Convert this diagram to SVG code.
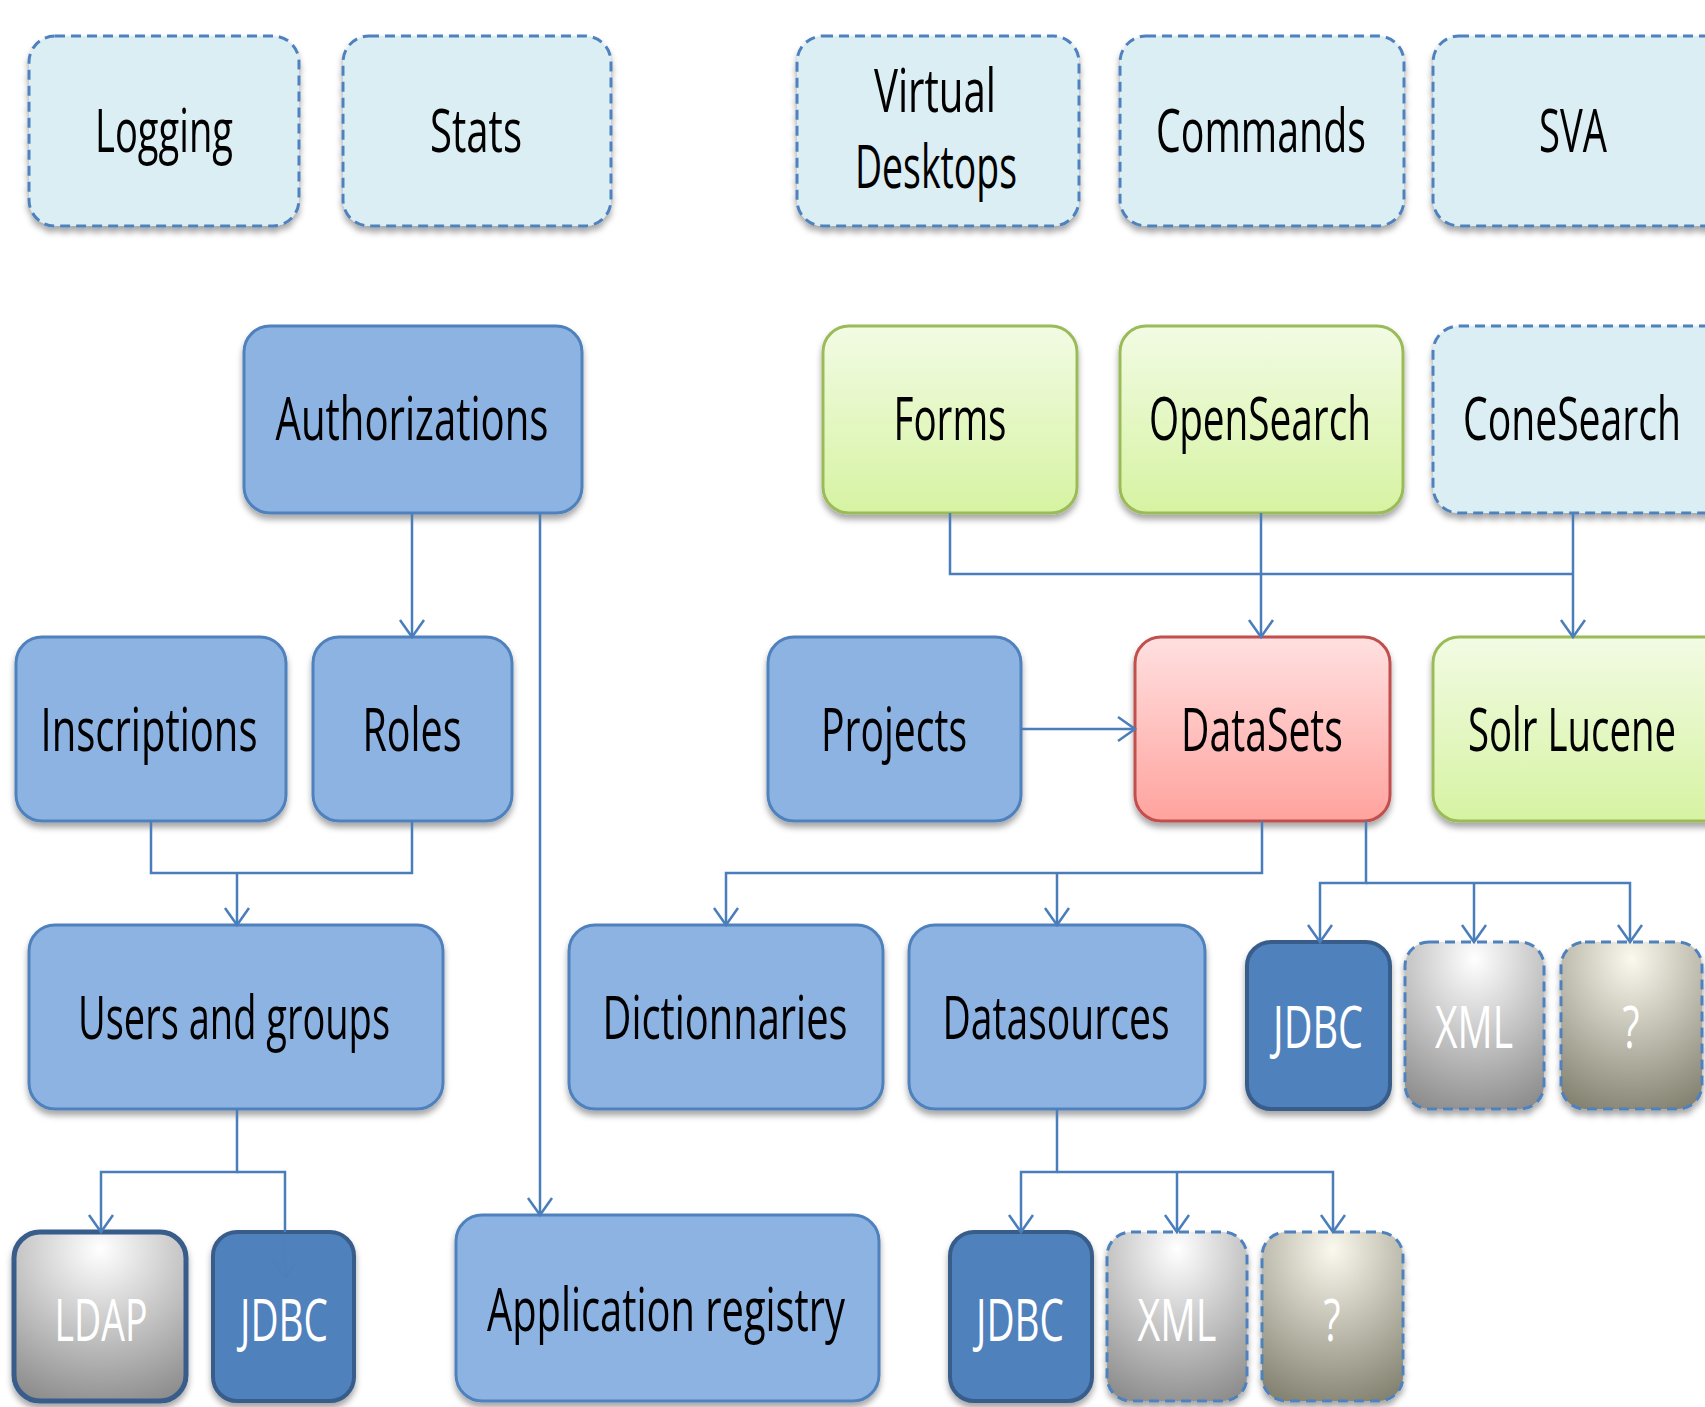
<svg xmlns="http://www.w3.org/2000/svg" width="1705" height="1407" viewBox="0 0 1705 1407">
  <style>
    .box { stroke-width: 3; }
    .opt { fill: #DBEEF4; stroke: #4F81BD; stroke-dasharray: 10 6; }
    .mod { fill: #8DB3E2; stroke: #4F81BD; }
    .green { fill: url(#gGreen); stroke: #9BBB59; }
    .red { fill: url(#gRed); stroke: #C0504D; }
    .dark { fill: #4F81BD; stroke: #385D8A; stroke-width: 4; }
    .grayOpt { fill: url(#gGray); stroke: #4F81BD; stroke-dasharray: 10 6; }
    .beigeOpt { fill: url(#gBeige); stroke: #4F81BD; stroke-dasharray: 10 6; }
    .graySolid { fill: url(#gGray); stroke: #385D8A; stroke-width: 5; }
    text { font-family: "Open Sans", "Liberation Sans", sans-serif; font-size: 61px; text-anchor: middle; fill: #000; }
    text.w { fill: #FFFFFF; font-size: 58px; }
    .link { fill: none; stroke: #4A7EBB; stroke-width: 2.5; }
  </style>
  <defs>
    <filter id="shadow" x="-10%" y="-10%" width="120%" height="125%">
      <feDropShadow dx="0" dy="5" stdDeviation="3" flood-color="#000" flood-opacity="0.35"/>
    </filter>
    <linearGradient id="gGreen" x1="0" y1="0" x2="0" y2="1">
      <stop offset="0" stop-color="#F2FBE4"/>
      <stop offset="1" stop-color="#D6F3A2"/>
    </linearGradient>
    <linearGradient id="gRed" x1="0" y1="0" x2="0" y2="1">
      <stop offset="0" stop-color="#FFE0E0"/>
      <stop offset="1" stop-color="#FFA39E"/>
    </linearGradient>
    <radialGradient id="gGray" cx="0.5" cy="0.1" r="0.95">
      <stop offset="0" stop-color="#FFFFFF"/>
      <stop offset="1" stop-color="#8E8E8E"/>
    </radialGradient>
    <radialGradient id="gBeige" cx="0.5" cy="0.1" r="0.95">
      <stop offset="0" stop-color="#FBF9EE"/>
      <stop offset="1" stop-color="#858372"/>
    </radialGradient>
    <marker id="arrow" markerUnits="userSpaceOnUse" markerWidth="40" markerHeight="40" viewBox="-20 -20 40 40" refX="0" refY="0" orient="auto">
      <path d="M -17 -12 L 0 0 L -17 12" fill="none" stroke="#4A7EBB" stroke-width="2.5"/>
    </marker>
  </defs>

  <!-- top row: optional services -->
  <g id="logging">
    <rect class="box opt" x="29" y="36" width="270" height="190" rx="26" filter="url(#shadow)"/>
    <text x="164" y="152" textLength="138" lengthAdjust="spacingAndGlyphs">Logging</text>
  </g>
  <g id="stats">
    <rect class="box opt" x="343" y="36" width="268" height="190" rx="26" filter="url(#shadow)"/>
    <text x="476" y="152" textLength="92" lengthAdjust="spacingAndGlyphs">Stats</text>
  </g>
  <g id="virtual-desktops">
    <rect class="box opt" x="797" y="36" width="282" height="190" rx="26" filter="url(#shadow)"/>
    <text x="935" y="112" textLength="122" lengthAdjust="spacingAndGlyphs">Virtual</text>
    <text x="936" y="188" textLength="162" lengthAdjust="spacingAndGlyphs">Desktops</text>
  </g>
  <g id="commands">
    <rect class="box opt" x="1120" y="36" width="284" height="190" rx="26" filter="url(#shadow)"/>
    <text x="1261" y="152" textLength="210" lengthAdjust="spacingAndGlyphs">Commands</text>
  </g>
  <g id="sva">
    <rect class="box opt" x="1433" y="36" width="300" height="190" rx="26" filter="url(#shadow)"/>
    <text x="1573" y="152" textLength="68" lengthAdjust="spacingAndGlyphs">SVA</text>
  </g>

  <!-- second row -->
  <g id="authorizations">
    <rect class="box mod" x="244" y="326" width="338" height="187" rx="26" filter="url(#shadow)"/>
    <text x="412" y="440" textLength="273" lengthAdjust="spacingAndGlyphs">Authorizations</text>
  </g>
  <g id="forms">
    <rect class="box green" x="823" y="326" width="254" height="187" rx="26" filter="url(#shadow)"/>
    <text x="950" y="440" textLength="113" lengthAdjust="spacingAndGlyphs">Forms</text>
  </g>
  <g id="opensearch">
    <rect class="box green" x="1120" y="326" width="283" height="187" rx="26" filter="url(#shadow)"/>
    <text x="1260" y="440" textLength="222" lengthAdjust="spacingAndGlyphs">OpenSearch</text>
  </g>
  <g id="conesearch">
    <rect class="box opt" x="1433" y="326" width="300" height="187" rx="26" filter="url(#shadow)"/>
    <text x="1572" y="440" textLength="218" lengthAdjust="spacingAndGlyphs">ConeSearch</text>
  </g>

  <!-- third row -->
  <g id="inscriptions">
    <rect class="box mod" x="16" y="637" width="270" height="184" rx="26" filter="url(#shadow)"/>
    <text x="149" y="751" textLength="217" lengthAdjust="spacingAndGlyphs">Inscriptions</text>
  </g>
  <g id="roles">
    <rect class="box mod" x="313" y="637" width="199" height="184" rx="26" filter="url(#shadow)"/>
    <text x="412" y="751" textLength="99" lengthAdjust="spacingAndGlyphs">Roles</text>
  </g>
  <g id="projects">
    <rect class="box mod" x="768" y="637" width="253" height="184" rx="26" filter="url(#shadow)"/>
    <text x="894" y="751" textLength="146" lengthAdjust="spacingAndGlyphs">Projects</text>
  </g>
  <g id="datasets">
    <rect class="box red" x="1135" y="637" width="255" height="184" rx="26" filter="url(#shadow)"/>
    <text x="1262" y="751" textLength="162" lengthAdjust="spacingAndGlyphs">DataSets</text>
  </g>
  <g id="solr-lucene">
    <rect class="box green" x="1433" y="637" width="300" height="184" rx="26" filter="url(#shadow)"/>
    <text x="1572" y="751" textLength="208" lengthAdjust="spacingAndGlyphs">Solr Lucene</text>
  </g>

  <!-- fourth row -->
  <g id="users-and-groups">
    <rect class="box mod" x="29" y="925" width="414" height="184" rx="26" filter="url(#shadow)"/>
    <text x="234" y="1039" textLength="312" lengthAdjust="spacingAndGlyphs">Users and groups</text>
  </g>
  <g id="dictionnaries">
    <rect class="box mod" x="569" y="925" width="314" height="184" rx="26" filter="url(#shadow)"/>
    <text x="725" y="1039" textLength="245" lengthAdjust="spacingAndGlyphs">Dictionnaries</text>
  </g>
  <g id="datasources">
    <rect class="box mod" x="909" y="925" width="296" height="184" rx="26" filter="url(#shadow)"/>
    <text x="1056" y="1039" textLength="227" lengthAdjust="spacingAndGlyphs">Datasources</text>
  </g>
  <g id="dataset-jdbc">
    <rect class="box dark" x="1247" y="942" width="143" height="167" rx="24" filter="url(#shadow)"/>
    <text class="w" x="1318" y="1048" textLength="90" lengthAdjust="spacingAndGlyphs">JDBC</text>
  </g>
  <g id="dataset-xml">
    <rect class="box grayOpt" x="1405" y="942" width="139" height="167" rx="24" filter="url(#shadow)"/>
    <text class="w" x="1474" y="1048" textLength="78" lengthAdjust="spacingAndGlyphs">XML</text>
  </g>
  <g id="dataset-other">
    <rect class="box beigeOpt" x="1561" y="942" width="141" height="167" rx="24" filter="url(#shadow)"/>
    <text class="w" x="1631" y="1048" textLength="17" lengthAdjust="spacingAndGlyphs">?</text>
  </g>

  <!-- fifth row -->
  <g id="ldap">
    <rect class="box graySolid" x="14" y="1232" width="172" height="169" rx="26" filter="url(#shadow)"/>
    <text class="w" x="101" y="1341" textLength="93" lengthAdjust="spacingAndGlyphs">LDAP</text>
  </g>
  <g id="users-jdbc">
    <rect class="box dark" x="213" y="1232" width="141" height="169" rx="24" filter="url(#shadow)"/>
    <text class="w" x="284" y="1341" textLength="88" lengthAdjust="spacingAndGlyphs">JDBC</text>
  </g>
  <g id="application-registry">
    <rect class="box mod" x="456" y="1215" width="423" height="186" rx="26" filter="url(#shadow)"/>
    <text x="666" y="1331" textLength="358" lengthAdjust="spacingAndGlyphs">Application registry</text>
  </g>
  <g id="datasource-jdbc">
    <rect class="box dark" x="950" y="1232" width="142" height="169" rx="24" filter="url(#shadow)"/>
    <text class="w" x="1020" y="1341" textLength="88" lengthAdjust="spacingAndGlyphs">JDBC</text>
  </g>
  <g id="datasource-xml">
    <rect class="box grayOpt" x="1107" y="1232" width="140" height="169" rx="24" filter="url(#shadow)"/>
    <text class="w" x="1177" y="1341" textLength="79" lengthAdjust="spacingAndGlyphs">XML</text>
  </g>
  <g id="datasource-other">
    <rect class="box beigeOpt" x="1262" y="1232" width="141" height="169" rx="24" filter="url(#shadow)"/>
    <text class="w" x="1332" y="1341" textLength="17" lengthAdjust="spacingAndGlyphs">?</text>
  </g>

  <!-- connectors -->
  <g id="connectors">
    <path class="link" d="M412 513 V637" marker-end="url(#arrow)"/>
    <path class="link" d="M540 513 V1215" marker-end="url(#arrow)"/>
    <path class="link" d="M151 821 V873 H412 V821"/>
    <path class="link" d="M237 873 V925" marker-end="url(#arrow)"/>
    <path class="link" d="M237 1109 V1172 H101 V1232" marker-end="url(#arrow)"/>
    <path class="link" d="M237 1172 H285 V1232"/>
    <path class="link" d="M285 1232 V1278" stroke-opacity="0.3" marker-end="url(#arrow)" style="opacity:0.35"/>
    <path class="link" d="M950 513 V574 H1573"/>
    <path class="link" d="M1261 513 V637" marker-end="url(#arrow)"/>
    <path class="link" d="M1573 513 V637" marker-end="url(#arrow)"/>
    <path class="link" d="M1021 729 H1135" marker-end="url(#arrow)"/>
    <path class="link" d="M1262 821 V873 H726 V925" marker-end="url(#arrow)"/>
    <path class="link" d="M1057 873 V925" marker-end="url(#arrow)"/>
    <path class="link" d="M1366 821 V883 H1320 V942" marker-end="url(#arrow)"/>
    <path class="link" d="M1366 883 H1630 V942" marker-end="url(#arrow)"/>
    <path class="link" d="M1474 883 V942" marker-end="url(#arrow)"/>
    <path class="link" d="M1057 1109 V1172 H1021 V1232" marker-end="url(#arrow)"/>
    <path class="link" d="M1057 1172 H1333 V1232" marker-end="url(#arrow)"/>
    <path class="link" d="M1177 1172 V1232" marker-end="url(#arrow)"/>
  </g>
</svg>
